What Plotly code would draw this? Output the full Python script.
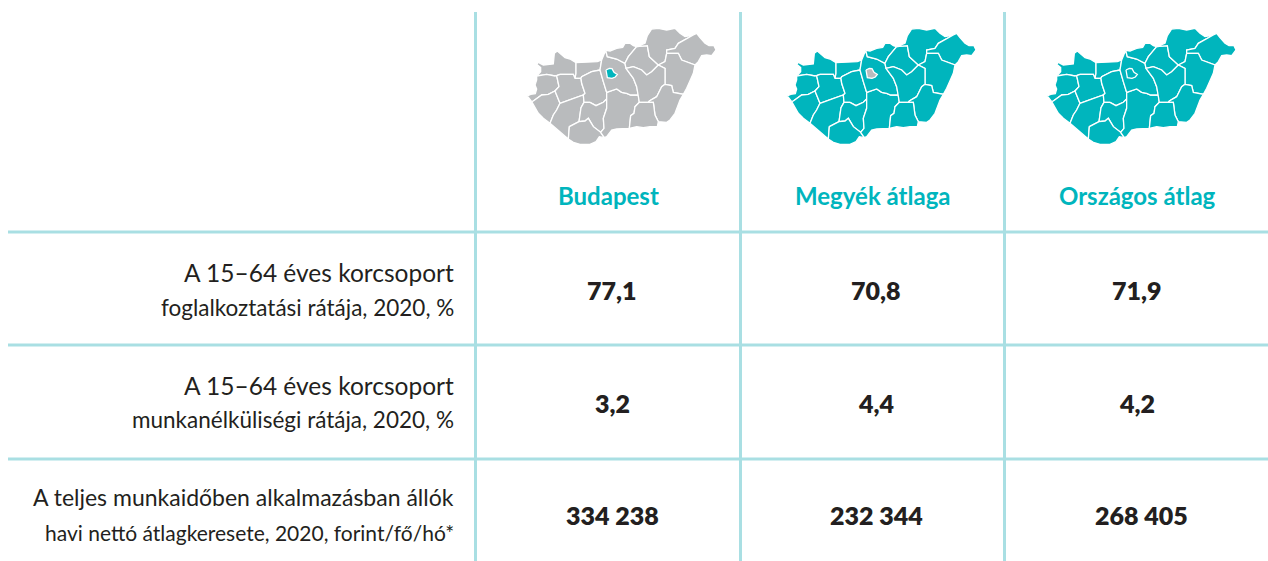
import plotly.graph_objects as go

W, H = 1268, 561
TEAL = "#00b5bd"
GREY = "#b9bbbd"
LINE = "#a9dfe3"
INK = "#231f20"
FONT = "Lato"

columns = ["Budapest", "Megyék átlaga", "Országos átlag"]
row_labels = [
    ["A 15–64 éves korcsoport", "foglalkoztatási rátája, 2020, %"],
    ["A 15–64 éves korcsoport", "munkanélküliségi rátája, 2020, %"],
    ["A teljes munkaidőben alkalmazásban állók", "havi nettó átlagkeresete, 2020, forint/fő/hó*"],
]
budapest_values = ["77,1", "3,2", "334 238"]
megyek_values = ["70,8", "4,4", "232 344"]
orszagos_values = ["71,9", "4,2", "268 405"]

# county outlines, in map units
counties = {
    "Gyor": [(80,183),(92,170),(92,158),(80,148),(85,142),(100,150),(130,147),(133,115),(142,108),(155,118),(165,128),(180,132),(198,143),(198,175),(195,190),(190,178),(150,178),(135,183),(110,178)],
    "Komarom": [(198,143),(236,142),(262,140),(275,135),(270,165),(245,170),(215,185),(213,190),(195,190),(198,175)],
    "Vas": [(52,243),(62,238),(76,236),(80,222),(75,210),(80,195),(80,183),(110,178),(135,183),(140,182),(147,215),(135,228),(115,238),(95,240),(70,258),(65,260)],
    "Zala": [(65,260),(70,258),(95,240),(115,238),(135,228),(150,265),(140,285),(130,300),(120,325),(100,310),(85,295),(75,275)],
    "Veszprem": [(140,182),(150,178),(190,178),(195,190),(213,190),(215,205),(225,235),(220,240),(185,252),(150,265),(135,228),(147,215)],
    "Somogy": [(150,265),(185,252),(220,240),(222,262),(213,278),(207,320),(178,335),(175,372),(155,355),(135,335),(120,325),(130,300),(140,285)],
    "Fejer": [(213,190),(215,185),(245,170),(270,165),(280,200),(290,232),(290,252),(280,262),(258,272),(240,262),(222,262),(220,240),(225,235),(215,205)],
    "Tolna": [(222,262),(240,262),(258,272),(280,262),(290,252),(290,280),(280,310),(282,340),(272,352),(250,335),(235,310),(225,318),(207,320),(213,278)],
    "Baranya": [(178,335),(207,320),(225,318),(235,310),(250,335),(272,352),(283,368),(268,365),(258,380),(240,388),(210,388),(190,382),(175,372)],
    "Bacs": [(290,232),(305,228),(320,222),(335,232),(350,235),(362,240),(385,240),(388,262),(375,275),(372,295),(362,302),(358,340),(345,340),(320,342),(305,345),(290,365),(283,368),(272,352),(282,340),(280,310),(290,280),(290,252)],
    "Pest": [(275,135),(283,118),(287,106),(292,125),(320,132),(345,145),(348,160),(370,190),(380,215),(385,240),(362,240),(350,235),(335,232),(320,222),(305,228),(290,232),(280,200),(270,165)],
    "Nograd": [(287,106),(300,108),(320,100),(338,97),(345,85),(360,85),(370,92),(380,95),(355,125),(345,145),(320,132),(292,125)],
    "Heves": [(380,95),(412,92),(418,125),(445,150),(425,170),(410,180),(395,165),(370,155),(348,160),(345,145),(355,125)],
    "Borsod": [(380,95),(395,88),(405,85),(412,62),(425,42),(445,40),(470,45),(495,40),(510,55),(525,65),(540,62),(550,60),(505,85),(495,100),(470,105),(470,115),(465,140),(445,150),(418,125),(412,92)],
    "Szabolcs": [(550,60),(560,55),(570,68),(585,85),(597,92),(612,92),(618,105),(605,122),(590,120),(575,122),(565,140),(555,150),(515,135),(505,115),(470,115),(470,105),(495,100),(505,85)],
    "Hajdu": [(470,115),(505,115),(515,135),(555,150),(550,175),(540,200),(530,220),(520,238),(490,232),(485,212),(465,208),(465,160),(445,150),(465,140)],
    "Jasz": [(348,160),(370,155),(395,165),(410,180),(425,170),(445,150),(465,160),(465,208),(455,215),(440,245),(418,258),(415,262),(388,262),(385,240),(380,215),(370,190)],
    "Bekes": [(465,208),(485,212),(490,232),(520,238),(510,255),(505,270),(495,295),(480,315),(470,322),(445,320),(435,300),(430,262),(415,262),(418,258),(440,245),(455,215)],
    "Csongrad": [(388,262),(415,262),(430,262),(435,300),(445,320),(442,335),(420,335),(400,338),(380,335),(358,340),(362,302),(372,295),(375,275)],
}
budapest_outline = [(288,165),(298,160),(306,161),(312,172),(322,178),(316,186),(306,190),(292,188)]

map_fill = [GREY, TEAL, TEAL]
budapest_fill = [TEAL, GREY, TEAL]

fig = go.Figure()

layout = dict(
    width=W, height=H, margin=dict(l=0, r=0, t=0, b=0),
    paper_bgcolor="white", plot_bgcolor="white", showlegend=False,
    xaxis=dict(range=[0, W], domain=[0, 1], visible=False, fixedrange=True),
    yaxis=dict(range=[H, 0], domain=[0, 1], visible=False, fixedrange=True),
)
fig.add_trace(go.Scatter(x=[0, W], y=[0, H], mode="markers", marker=dict(opacity=0), hoverinfo="skip"))

map_left = [510, 770, 1030]
map_w, map_h, map_top = 220, 140, 15
for i, left in enumerate(map_left):
    n = i + 2
    layout[f"xaxis{n}"] = dict(domain=[left / W, (left + map_w) / W], range=[0, 660], visible=False,
                               anchor=f"y{n}", fixedrange=True)
    layout[f"yaxis{n}"] = dict(domain=[1 - (map_top + map_h) / H, 1 - map_top / H], range=[420, 0], visible=False,
                               anchor=f"x{n}", fixedrange=True)
    for name, poly in counties.items():
        xs = [p[0] for p in poly] + [poly[0][0]]
        ys = [p[1] for p in poly] + [poly[0][1]]
        fig.add_trace(go.Scatter(x=xs, y=ys, mode="lines", fill="toself", fillcolor=map_fill[i],
                                 line=dict(color="white", width=1.3), hoverinfo="skip", name=name,
                                 xaxis=f"x{n}", yaxis=f"y{n}"))
    xs = [p[0] for p in budapest_outline] + [budapest_outline[0][0]]
    ys = [p[1] for p in budapest_outline] + [budapest_outline[0][1]]
    fig.add_trace(go.Scatter(x=xs, y=ys, mode="lines", fill="toself", fillcolor=budapest_fill[i],
                             line=dict(color="white", width=1.3), hoverinfo="skip", name="Budapest",
                             xaxis=f"x{n}", yaxis=f"y{n}"))

shapes = []
for x in (475.5, 740.5, 1004.5):
    shapes.append(dict(type="line", xref="x", yref="y", x0=x, x1=x, y0=12, y1=H, line=dict(color=LINE, width=3)))
for y in (232, 345, 459):
    shapes.append(dict(type="line", xref="x", yref="y", x0=8, x1=1268, y0=y, y1=y, line=dict(color=LINE, width=3)))
layout["shapes"] = shapes

header_x = [608, 872.5, 1137]
header_y = 195
value_x = [(612, 612, 612), (876, 876, 876), (1137, 1137, 1141)]
value_y = [290, 403, 515]
line_y = [(272, 307), (385, 419), (497, 532)]
line_size = [(24.5, 22.5), (24.5, 22.5), (23, 21)]
label_right = 456
anns = []
for c, x in zip(columns, header_x):
    anns.append(dict(x=x, y=header_y, text=f"<b>{c}</b>", xref="x", yref="y", showarrow=False,
                     font=dict(family=FONT, size=24, color=TEAL), xanchor="center", yanchor="middle"))
for vals, xs in zip((budapest_values, megyek_values, orszagos_values), value_x):
    for v, x, y in zip(vals, xs, value_y):
        anns.append(dict(x=x, y=y, text=v, xref="x", yref="y", showarrow=False,
                         font=dict(family=FONT, size=25, color=INK, weight=800), xanchor="center", yanchor="middle"))
for lines, ys, sizes in zip(row_labels, line_y, line_size):
    for t, y, s in zip(lines, ys, sizes):
        anns.append(dict(x=label_right, y=y, text=t, xref="x", yref="y", showarrow=False,
                         font=dict(family=FONT, size=s, color=INK), xanchor="right", yanchor="middle"))
layout["annotations"] = anns

fig.update_layout(**layout)
fig.write_html("out.html", config=dict(displayModeBar=False),
               post_script="document.body.style.margin='0';document.documentElement.style.overflow='hidden';")
